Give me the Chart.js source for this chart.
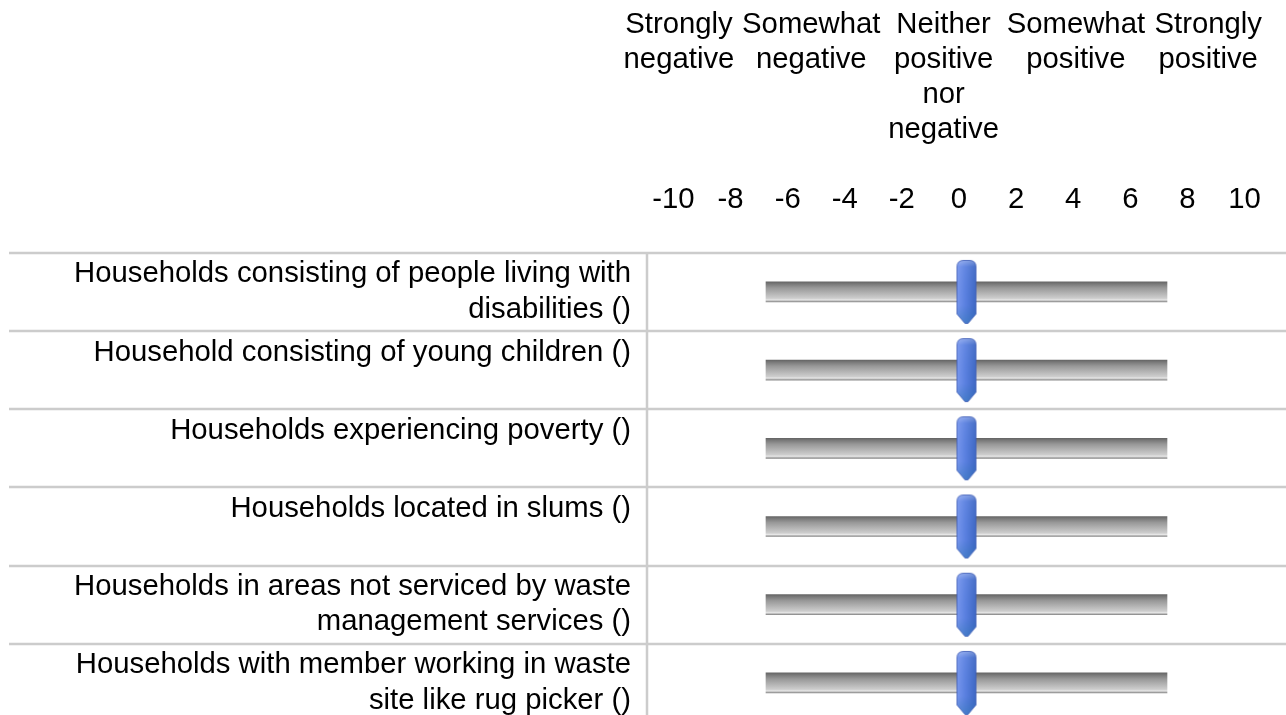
<!DOCTYPE html>
<html>
<head>
<meta charset="utf-8">
<script src="https://cdn.jsdelivr.net/npm/chart.js@4.4.1/dist/chart.umd.min.js"></script>
<style>
  html, body { margin: 0; padding: 0; background: #fff; overflow: hidden; }
  canvas { display: block; }
</style>
</head>
<body>
<canvas id="chart" width="1286" height="722"></canvas>
<script>
// rows of the survey
const rowLabels = [
    ['Households consisting of people living with', 'disabilities ()'],
    ['Household consisting of young children ()', ''],
    ['Households experiencing poverty ()', ''],
    ['Households located in slums ()', ''],
    ['Households in areas not serviced by waste', 'management services ()'],
    ['Households with member working in waste', 'site like rug picker ()']
];
const trackStart = [-10, -10, -10, -10, -10, -10];
const trackEnd = [10, 10, 10, 10, 10, 10];
const sliderValues = [0, 0, 0, 0, 0, 0];

const headerLabels = [
    ['Strongly', 'negative'],
    ['Somewhat', 'negative'],
    ['Neither', 'positive', 'nor', 'negative'],
    ['Somewhat', 'positive'],
    ['Strongly', 'positive']
];
const tickValues = [-10, -8, -6, -4, -2, 0, 2, 4, 6, 8, 10];

Chart.defaults.font.family = '"Liberation Sans", Arial, sans-serif';
Chart.defaults.font.size = 29.3;
Chart.defaults.color = '#000';

// slider thumb as an image point style
function makeThumb() {
    const c = document.createElement('canvas');
    c.width = 22; c.height = 66;
    const g = c.getContext('2d');
    const path = () => {
        g.beginPath();
        g.moveTo(1.5, 8);
        g.quadraticCurveTo(1.5, 1.5, 8, 1.5);
        g.lineTo(14, 1.5);
        g.quadraticCurveTo(20.5, 1.5, 20.5, 8);
        g.lineTo(20.5, 55);
        g.lineTo(12.5, 64.5);
        g.lineTo(9.5, 64.5);
        g.lineTo(1.5, 55);
        g.closePath();
    };
    path();
    const hg = g.createLinearGradient(0, 0, 22, 0);
    hg.addColorStop(0, '#7c9af0');
    hg.addColorStop(0.45, '#5a80e0');
    hg.addColorStop(1, '#3a64c0');
    g.fillStyle = hg;
    g.fill();
    path();
    const vg = g.createLinearGradient(0, 0, 0, 66);
    vg.addColorStop(0, 'rgba(255,255,255,0.35)');
    vg.addColorStop(0.12, 'rgba(255,255,255,0.05)');
    vg.addColorStop(0.7, 'rgba(40,110,170,0.0)');
    vg.addColorStop(1, 'rgba(40,120,170,0.45)');
    g.fillStyle = vg;
    g.fill();
    g.strokeStyle = 'rgba(60,90,180,0.8)';
    g.lineWidth = 1;
    path();
    g.stroke();
    return c;
}

function trackFill(ctx) {
    const chart = ctx.chart;
    const y = chart.scales.y;
    if (!chart.chartArea || !y || ctx.type !== 'data') return '#a8a8a8';
    const cy = y.getPixelForValue(ctx.dataIndex);
    const gr = chart.ctx.createLinearGradient(0, cy - 10, 0, cy + 10);
    gr.addColorStop(0, '#666666');
    gr.addColorStop(0.12, '#7c7c7c');
    gr.addColorStop(0.3, '#989898');
    gr.addColorStop(0.82, '#cdcdcd');
    gr.addColorStop(0.9, '#e6e6e6');
    gr.addColorStop(1, '#8a8a8a');
    return gr;
}

// table rules between rows and next to the labels
const tableLines = {
    id: 'tableLines',
    beforeDatasetsDraw(chart) {
        const {ctx, chartArea, scales: {y}} = chart;
        const step = y.getPixelForValue(1) - y.getPixelForValue(0);
        ctx.save();
        ctx.strokeStyle = '#cccccc';
        ctx.lineWidth = 2.5;
        for (let i = 0; i <= rowLabels.length; i++) {
            const py = Math.round(y.getPixelForValue(i) - step / 2);
            ctx.beginPath();
            ctx.moveTo(9, py);
            ctx.lineTo(chart.width, py);
            ctx.stroke();
        }
        ctx.beginPath();
        ctx.moveTo(chartArea.left - 1, chartArea.top);
        ctx.lineTo(chartArea.left - 1, chart.height);
        ctx.stroke();
        ctx.restore();
    }
};

const noSidePad = s => { s.paddingLeft = 0; s.paddingRight = 0; };

new Chart(document.getElementById('chart').getContext('2d'), {
    type: 'bar',
    data: {
        labels: rowLabels,
        datasets: [{
            type: 'line',
            indexAxis: 'y',
            data: sliderValues,
            xAxisID: 'xt',
            showLine: false,
            pointStyle: makeThumb(),
            pointRadius: 10,
            order: 0
        }, {
            data: trackStart.map((s, i) => [s, trackEnd[i]]),
            xAxisID: 'xt',
            backgroundColor: trackFill,
            borderWidth: 0,
            barThickness: 20,
            order: 1
        }]
    },
    options: {
        indexAxis: 'y',
        responsive: false,
        animation: false,
        devicePixelRatio: 1,
        layout: { autoPadding: false, padding: { top: 7, left: 0, right: 0, bottom: 0 } },
        plugins: { legend: { display: false }, tooltip: { enabled: false } },
        scales: {
            xh: {
                axis: 'x', type: 'linear', position: 'top', weight: 2,
                min: -0.234, max: 4.588,
                grid: { display: false, drawTicks: false }, border: { display: false },
                afterBuildTicks: s => { s.ticks = headerLabels.map((_, i) => ({ value: i })); },
                afterFit: noSidePad,
                ticks: {
                    autoSkip: false, maxRotation: 0, minRotation: 0, padding: 0,
                    crossAlign: 'far',
                    font: { lineHeight: 1.2 },
                    callback: v => headerLabels[v]
                }
            },
            xn: {
                axis: 'x', type: 'linear', position: 'top', weight: 1,
                min: -10.893, max: 11.454,
                grid: { display: false, drawTicks: false }, border: { display: false },
                afterBuildTicks: s => { s.ticks = tickValues.map(v => ({ value: v })); },
                afterFit: noSidePad,
                ticks: {
                    autoSkip: false, maxRotation: 0, minRotation: 0, padding: 35,
                    font: { lineHeight: 1.2 }
                }
            },
            xt: {
                axis: 'x', type: 'linear', position: 'top', display: false,
                min: -15.885, max: 15.935
            },
            y: {
                type: 'category', position: 'left',
                grid: { display: false, drawTicks: false }, border: { display: false },
                afterFit: s => { s.width = 648; s.paddingTop = 0; s.paddingBottom = 0; },
                ticks: {
                    autoSkip: false, padding: 17, crossAlign: 'near',
                    font: { lineHeight: 1.2 }
                }
            }
        }
    },
    plugins: [tableLines]
});
</script>
</body>
</html>
